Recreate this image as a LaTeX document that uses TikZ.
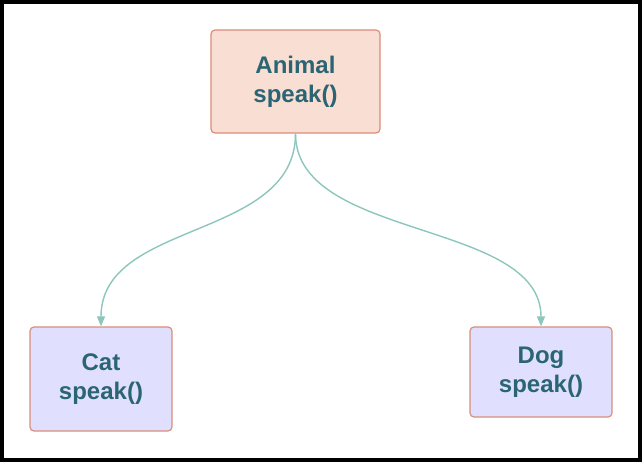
\documentclass[tikz,border=0pt]{standalone}
\usepackage{fontspec}
\setsansfont{Liberation Sans}
\usepackage{tikz}
\usetikzlibrary{shapes,arrows.meta}
\definecolor{parentfill}{RGB}{249,222,212}
\definecolor{childfill}{RGB}{224,224,254}
\definecolor{boxline}{RGB}{217,142,122}
\definecolor{textcolor}{RGB}{43,101,115}
\definecolor{edgecolor}{RGB}{140,198,188}

\begin{document}
\begin{tikzpicture}[
	x=1pt, y=1pt,
	parent/.style={
		rectangle,
		rounded corners=4pt,
		draw=boxline,
		line width=1.2pt,
		fill=parentfill,
		inner sep=0pt,
		minimum width=169pt,
		minimum height=103pt,
		align=center,
		text=textcolor,
		font=\bfseries\sffamily\fontsize{24}{29}\selectfont},
	child/.style={
		parent,
		fill=childfill,
		minimum width=142pt},
	line/.style={
	draw=edgecolor,
	line width=1.4pt,
	-{Triangle[length=10pt,width=8pt]}}]

    % Frame
    \useasboundingbox (0,0) rectangle (642,-462);
    \draw [line width=4pt] (2,-2) rectangle (640,-460);
    % Place nodes
    \node [parent] (animal) at (295.5,-81.5) {Animal\\speak()};
    \node [child, below of=animal, node distance=297.5pt, xshift=-194.5pt, minimum height=104pt] (cat) {Cat\\speak()};
    \node [child, below of=animal, node distance=290.5pt, xshift=245.5pt, minimum height=90pt] (dog) {Dog\\speak()};
    % Draw edges
    \path [line] (animal.south) .. controls +(0,-107) and +(0,107) .. (cat.north);
    \path [line] (animal.south) .. controls +(0,-107) and +(0,107) .. (dog.north);
\end{tikzpicture}
\end{document}
